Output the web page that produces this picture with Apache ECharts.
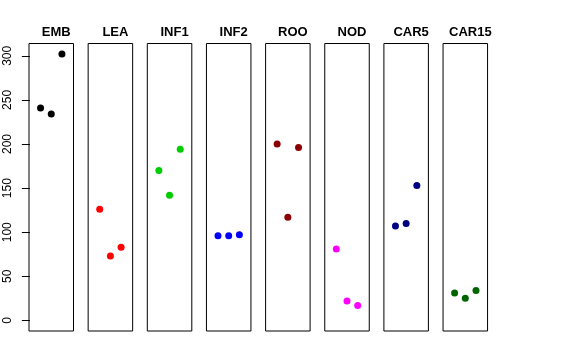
<!DOCTYPE html>
<html><head><meta charset="utf-8">
<script src="https://cdn.jsdelivr.net/npm/echarts@6/dist/echarts.min.js"></script>
<style>html,body{margin:0;padding:0;background:#fff}#c{width:576px;height:360px}</style>
</head><body><div id="c"></div>
<script>
var categories = ['EMB','LEA','INF1','INF2','ROO','NOD','CAR5','CAR15'];
var EMB = [241, 234, 302];
var LEA = [126, 73, 83];
var INF1 = [170, 142, 194];
var INF2 = [96, 96, 97];
var ROO = [200, 117, 196];
var NOD = [81, 22, 17];
var CAR5 = [107, 110, 153];
var CAR15 = [31, 25, 34];
var colors = ['#000000','#FF0000','#00CD00','#0000FF','#8B0000','#FF00FF','#000080','#006400'];
var yTicks = [0, 50, 100, 150, 200, 250, 300];
var seriesValues = [EMB, LEA, INF1, INF2, ROO, NOD, CAR5, CAR15];

var chart = echarts.init(document.getElementById('c'), null, {renderer:'canvas'});
var grids = [], xAxes = [], yAxes = [], series = [], titles = [];
var stride = 59.15, left0 = 29, gw = 44.5, gtop = 43.5, gh = 287.5;
for (var i = 0; i < categories.length; i++) {
  var l = left0 + i * stride;
  grids.push({left: l, top: gtop, width: gw, height: gh, show: true, borderColor: '#000', borderWidth: 1, backgroundColor: 'transparent'});
  xAxes.push({type: 'value', gridIndex: i, min: -0.08, max: 4.08, show: false});
  var ya = {type: 'value', gridIndex: i, min: -12, max: 314, splitLine: {show: false}};
  if (i === 0) {
    ya.axisLine = {show: false};
    ya.axisTick = {show: true, length: 8, lineStyle: {color: '#000'}, customValues: yTicks};
    ya.axisLabel = {show: true, rotate: 90, margin: 15, color: '#000', fontSize: 12, fontFamily: 'Liberation Sans, Arial, sans-serif', customValues: yTicks};
  } else {
    ya.axisLine = {show: false}; ya.axisTick = {show: false}; ya.axisLabel = {show: false};
  }
  yAxes.push(ya);
  series.push({
    type: 'scatter', xAxisIndex: i, yAxisIndex: i, symbolSize: 7,
    itemStyle: {color: colors[i], opacity: 1},
    data: seriesValues[i].map(function (v, k) { return [k + 1, v]; }),
    silent: true
  });
  titles.push({text: categories[i], left: l + gw / 2, top: 21, textAlign: 'center',
    textStyle: {fontSize: 13, fontWeight: 'bold', color: '#000', fontFamily: 'Liberation Sans, Arial, sans-serif'}});
}
chart.setOption({animation: false, title: titles, grid: grids, xAxis: xAxes, yAxis: yAxes, series: series});
</script></body></html>
